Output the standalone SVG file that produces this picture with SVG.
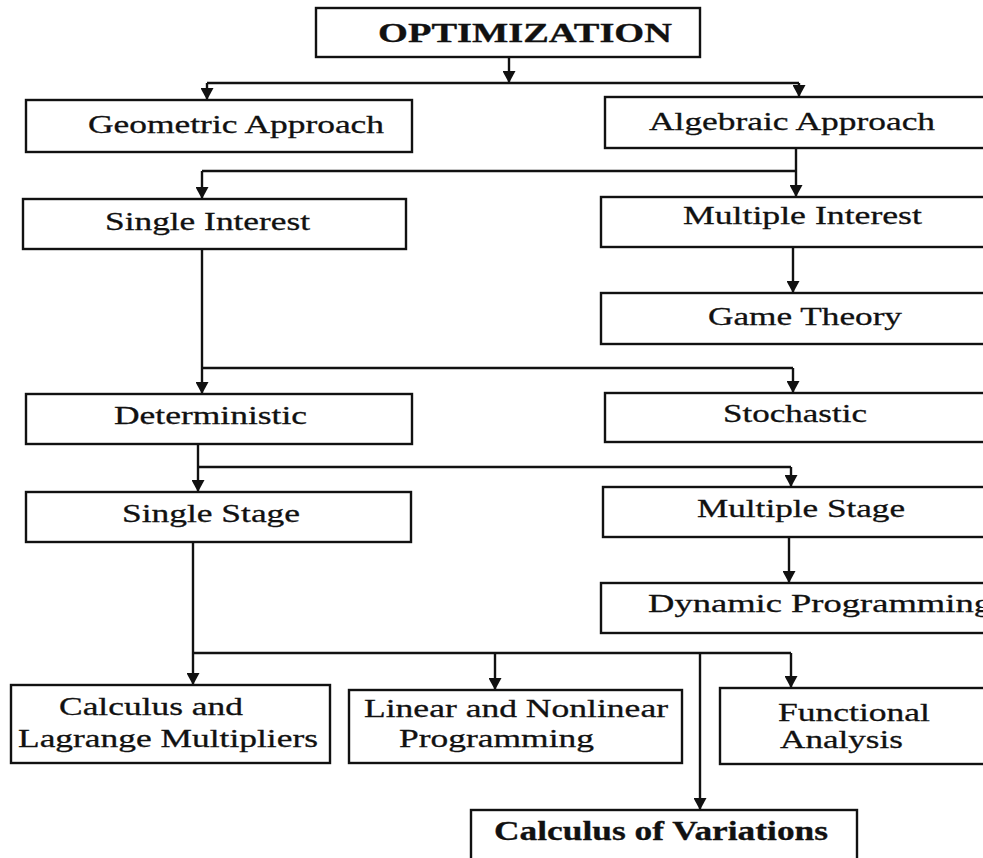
<svg xmlns="http://www.w3.org/2000/svg" width="983" height="858" viewBox="0 0 983 858">
<defs>
<marker id="ah" markerUnits="userSpaceOnUse" markerWidth="12" markerHeight="13" refX="12" refY="6.5" orient="auto">
<path d="M0,0 L12,6.5 L0,13 z" fill="#111"/>
</marker>
<style>
.box{fill:#fff;stroke:#111;stroke-width:2.4}
.t{font-family:"Liberation Serif","Times New Roman",serif;font-size:26px;fill:#111;stroke:#111;stroke-width:0.3}
.b{font-weight:bold;font-size:27px}
.c{fill:none;stroke:#111;stroke-width:2.4}
.a{fill:none;stroke:#111;stroke-width:2.4;marker-end:url(#ah)}
</style>
</defs>
<rect width="983" height="858" fill="#fff"/>
<g id="connectors">
<path class="a" d="M509,57 V83"/>
<path class="c" d="M207,83 H799"/>
<path class="a" d="M207,83 V100"/>
<path class="a" d="M799,83 V97"/>
<path class="a" d="M796,148 V197"/>
<path class="c" d="M202,171 H796"/>
<path class="a" d="M202,171 V199"/>
<path class="a" d="M793,247 V293"/>
<path class="a" d="M202,249 V394"/>
<path class="c" d="M202,368 H793"/>
<path class="a" d="M793,368 V393"/>
<path class="a" d="M198,444 V492"/>
<path class="c" d="M198,467 H791"/>
<path class="a" d="M791,467 V487"/>
<path class="a" d="M789,537 V583"/>
<path class="a" d="M193,542 V685"/>
<path class="c" d="M193,653 H791"/>
<path class="a" d="M495,653 V690"/>
<path class="a" d="M791,653 V688"/>
<path class="a" d="M700,653 V810"/>
</g>
<g id="optimization">
<rect class="box" x="316" y="8" width="384" height="49"/>
<text class="t b" transform="translate(378,42) scale(1.35,1)" textLength="217.8" lengthAdjust="spacingAndGlyphs">OPTIMIZATION</text>
</g>
<g id="geometric">
<rect class="box" x="26" y="100" width="386" height="52"/>
<text class="t" transform="translate(88,133) scale(1.35,1)" textLength="219.3" lengthAdjust="spacingAndGlyphs">Geometric Approach</text>
</g>
<g id="algebraic">
<rect class="box" x="605" y="97" width="390" height="51"/>
<text class="t" transform="translate(649,130) scale(1.35,1)" textLength="211.9" lengthAdjust="spacingAndGlyphs">Algebraic Approach</text>
</g>
<g id="single-interest">
<rect class="box" x="23" y="199" width="383" height="50"/>
<text class="t" transform="translate(105,230) scale(1.35,1)" textLength="151.9" lengthAdjust="spacingAndGlyphs">Single Interest</text>
</g>
<g id="multiple-interest">
<rect class="box" x="601" y="197" width="394" height="50"/>
<text class="t" transform="translate(683,224) scale(1.35,1)" textLength="177" lengthAdjust="spacingAndGlyphs">Multiple Interest</text>
</g>
<g id="game-theory">
<rect class="box" x="601" y="293" width="394" height="51"/>
<text class="t" transform="translate(708,325) scale(1.35,1)" textLength="143.7" lengthAdjust="spacingAndGlyphs">Game Theory</text>
</g>
<g id="deterministic">
<rect class="box" x="26" y="394" width="386" height="50"/>
<text class="t" transform="translate(114,424) scale(1.35,1)" textLength="143" lengthAdjust="spacingAndGlyphs">Deterministic</text>
</g>
<g id="stochastic">
<rect class="box" x="605" y="393" width="390" height="49"/>
<text class="t" transform="translate(723,422) scale(1.35,1)" textLength="106.7" lengthAdjust="spacingAndGlyphs">Stochastic</text>
</g>
<g id="single-stage">
<rect class="box" x="26" y="492" width="385" height="50"/>
<text class="t" transform="translate(122,522) scale(1.35,1)" textLength="131.9" lengthAdjust="spacingAndGlyphs">Single Stage</text>
</g>
<g id="multiple-stage">
<rect class="box" x="603" y="487" width="392" height="50"/>
<text class="t" transform="translate(697,517) scale(1.35,1)" textLength="154.1" lengthAdjust="spacingAndGlyphs">Multiple Stage</text>
</g>
<g id="dynamic-programming">
<rect class="box" x="601" y="583" width="394" height="50"/>
<text class="t" transform="translate(648,612) scale(1.35,1)" textLength="254.8" lengthAdjust="spacingAndGlyphs">Dynamic Programming</text>
</g>
<g id="calculus-lagrange">
<rect class="box" x="11" y="685" width="319" height="78"/>
<text class="t" transform="translate(59,715) scale(1.35,1)" textLength="136.3" lengthAdjust="spacingAndGlyphs">Calculus and</text>
<text class="t" transform="translate(18,747) scale(1.35,1)" textLength="222.2" lengthAdjust="spacingAndGlyphs">Lagrange Multipliers</text>
</g>
<g id="linear-nonlinear">
<rect class="box" x="349" y="690" width="333" height="73"/>
<text class="t" transform="translate(364,717) scale(1.35,1)" textLength="225.2" lengthAdjust="spacingAndGlyphs">Linear and Nonlinear</text>
<text class="t" transform="translate(399,747) scale(1.35,1)" textLength="144.4" lengthAdjust="spacingAndGlyphs">Programming</text>
</g>
<g id="functional-analysis">
<rect class="box" x="720" y="688" width="275" height="76"/>
<text class="t" transform="translate(778,721) scale(1.35,1)" textLength="112.6" lengthAdjust="spacingAndGlyphs">Functional</text>
<text class="t" transform="translate(780,748) scale(1.35,1)" textLength="91.1" lengthAdjust="spacingAndGlyphs">Analysis</text>
</g>
<g id="calculus-variations">
<rect class="box" x="471" y="810" width="386" height="55"/>
<text class="t b" transform="translate(494,840) scale(1.35,1)" textLength="247.4" lengthAdjust="spacingAndGlyphs">Calculus of Variations</text>
</g>
</svg>
